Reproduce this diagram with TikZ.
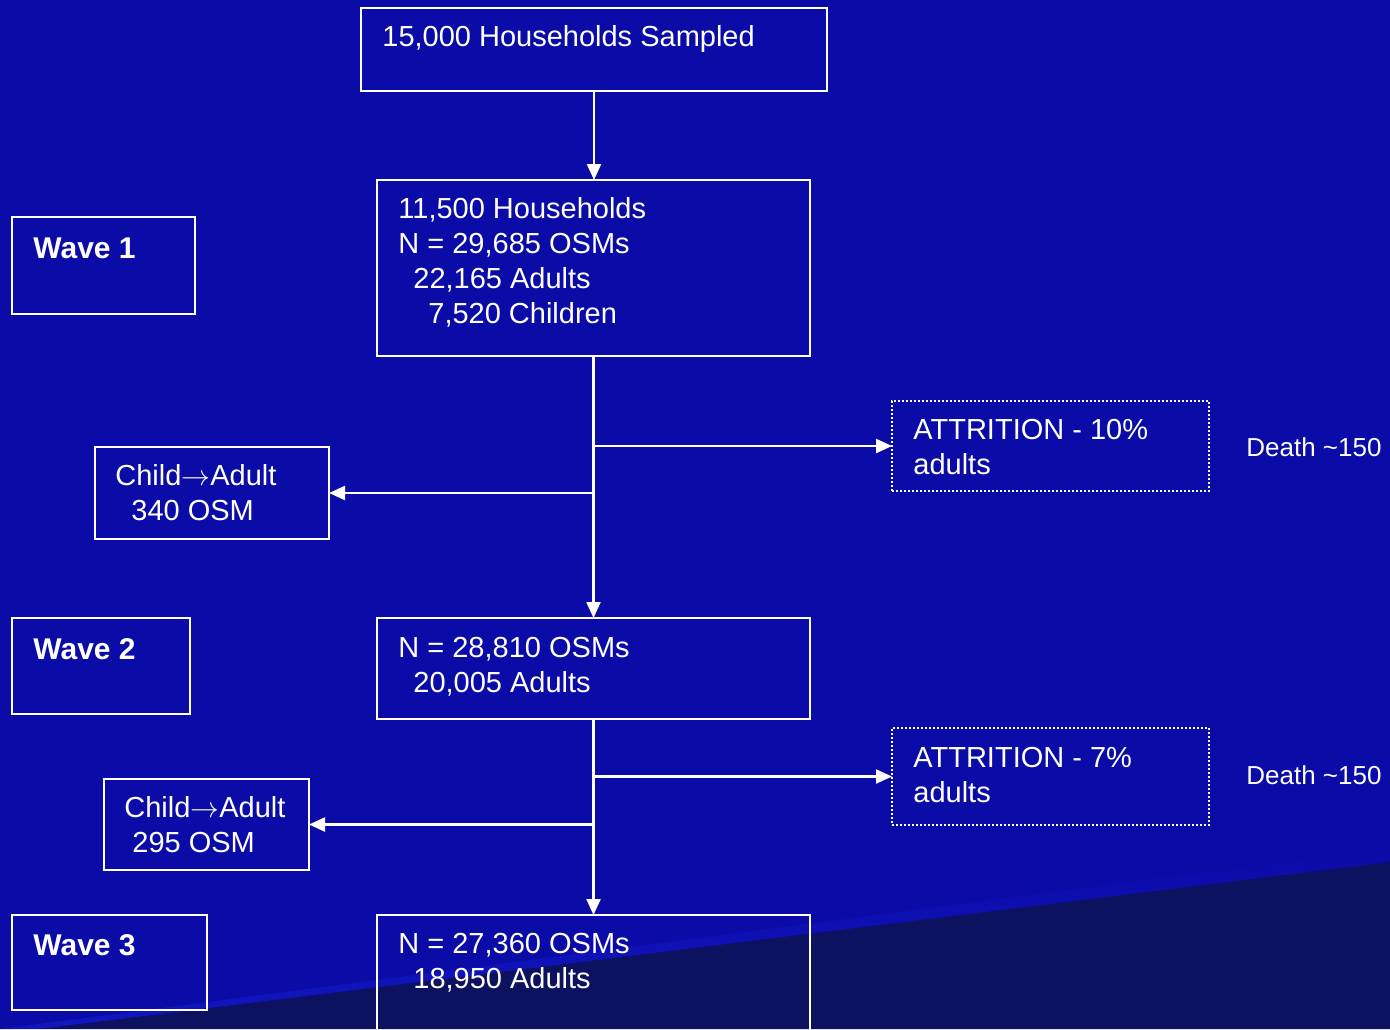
\documentclass[tikz,border=0pt]{standalone}
\usepackage{fontspec}
\setmainfont{Liberation Sans}
\usetikzlibrary{arrows.meta,calc}
\definecolor{bgblue}{RGB}{11,11,168}
\definecolor{darkblue}{RGB}{13,18,96}
\definecolor{bandblue}{RGB}{18,22,192}
\tikzset{
  box/.style={draw=white, line width=1.1pt, inner sep=0pt, outer sep=0pt},
  dotbox/.style={draw=white, line width=1.1pt, dash pattern=on 0.9pt off 1.1pt, inner sep=0pt, outer sep=0pt},
  txt/.style={text=white, anchor=base west, inner sep=0pt, align=left, font=\fontsize{14.5}{17.5}\selectfont},
  wtxt/.style={text=white, anchor=base west, inner sep=0pt, font=\fontsize{15}{18}\selectfont\bfseries},
  stxt/.style={text=white, anchor=base west, inner sep=0pt, font=\fontsize{13}{16}\selectfont},
  arr/.style={draw=white, line width=1.1pt, -{Triangle[length=8pt,width=7pt]}},
}
\newcommand{\toarrow}{\ensuremath{\rightarrow}}
\begin{document}
\begin{tikzpicture}[x=0.5pt,y=-0.5pt]
\useasboundingbox (0,0) rectangle (1390,1029);
\clip (0,0) rectangle (1390,1029);
\fill[bgblue] (0,0) rectangle (1390,1029);
\shade[top color=bgblue, bottom color=bandblue, shading angle=0] (0,1029) -- (1390,848) -- (1390,862) -- (40,1029) -- cycle;
\fill[darkblue] (40,1029) -- (1390,862) -- (1390,1029) -- cycle;

% boxes
\node[box, minimum width=233pt, minimum height=41.5pt] (top) at (594,49.5) {};
\node[box, minimum width=216.5pt, minimum height=88pt] (b2) at (593.5,268) {};
\node[box, minimum width=91.5pt, minimum height=48.5pt] (w1) at (103.5,265.5) {};
\node[box, minimum width=117pt, minimum height=46pt] (c1) at (212,493) {};
\node[dotbox, minimum width=158.5pt, minimum height=45pt] (a1) at (1050.5,446) {};
\node[box, minimum width=89pt, minimum height=48pt] (w2) at (101,666) {};
\node[box, minimum width=216.5pt, minimum height=50.5pt] (b3) at (593.5,668.5) {};
\node[dotbox, minimum width=158.5pt, minimum height=48.5pt] (a2) at (1050.5,776.5) {};
\node[box, minimum width=102.5pt, minimum height=45.5pt] (c2) at (206.5,824.5) {};
\node[box, minimum width=97.5pt, minimum height=47.5pt] (w3) at (109.5,962.5) {};
\node[box, minimum width=216.5pt, minimum height=67.5pt] (b4) at (593.5,982.5) {};

% texts (base west = baseline of the last line)
\node[txt] (ttop) at (382,46) {15,000 Households Sampled};
\node[txt] (tb2) at (398,323) {11,500 Households\\N = 29,685 OSMs\\\hspace*{7.5pt}22,165 Adults\\\hspace*{15pt}7,520 Children};
\node[wtxt] (tw1) at (33,258) {Wave 1};
\node[txt] (tc1) at (115,520) {Child\toarrow Adult\\\hspace*{8pt}340 OSM};
\node[txt] (ta1) at (913,474) {ATTRITION - 10\%\\adults};
\node[stxt] (td1) at (1246,456) {Death \textasciitilde150};
\node[wtxt] (tw2) at (33,659) {Wave 2};
\node[txt] (tb3) at (398,692) {N = 28,810 OSMs\\\hspace*{7.5pt}20,005 Adults};
\node[txt] (ta2) at (913,802) {ATTRITION - 7\%\\adults};
\node[stxt] (td2) at (1246,784) {Death \textasciitilde150};
\node[txt] (tc2) at (124,852) {Child\toarrow Adult\\\hspace*{4pt}295 OSM};
\node[wtxt] (tw3) at (33,955) {Wave 3};
\node[txt] (tb4) at (398,988) {N = 27,360 OSMs\\\hspace*{7.5pt}18,950 Adults};

% connectors
\draw[arr] (top.south) -- (top.south |- b2.north);
\draw[arr] (b2.south) -- (b2.south |- b3.north);
\coordinate (j1) at (b2.south |- a1.west);
\coordinate (j2) at (b2.south |- c1.east);
\draw[arr] (j1) -- (a1.west);
\draw[arr] (j2) -- (c1.east);
\draw[arr] (b3.south) -- (b3.south |- b4.north);
\coordinate (j3) at (b3.south |- a2.west);
\coordinate (j4) at (b3.south |- c2.east);
\draw[arr] (j3) -- (a2.west);
\draw[arr] (j4) -- (c2.east);
\end{tikzpicture}
\end{document}
